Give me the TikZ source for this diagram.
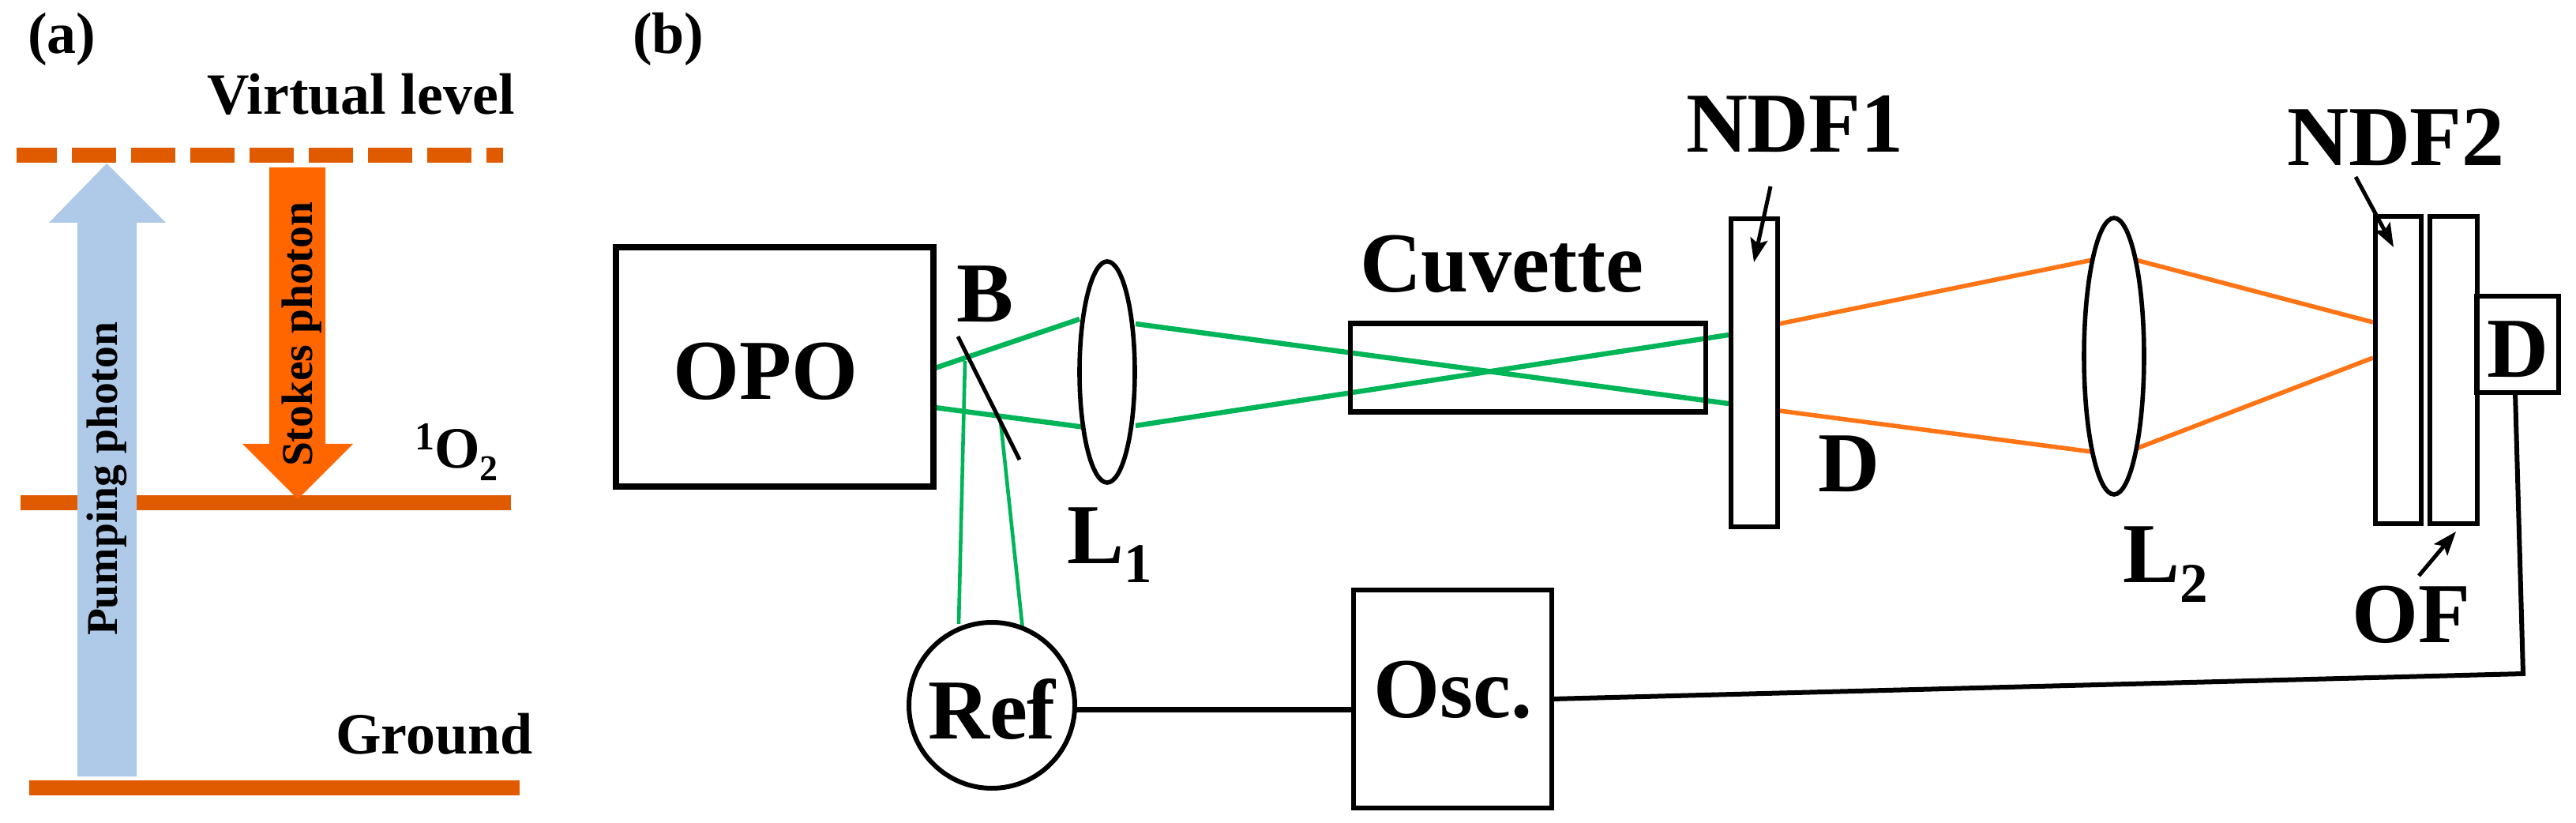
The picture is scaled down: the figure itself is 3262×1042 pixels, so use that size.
\documentclass[tikz,border=0pt]{standalone}
\usepackage{fontspec}
\usepackage{tikz}
\usetikzlibrary{arrows, arrows.meta, shapes.geometric, positioning}
\setmainfont{Liberation Serif}
\definecolor{levelc}{HTML}{E05A00}
\definecolor{pumpc}{HTML}{AFC9E8}
\definecolor{stokesc}{HTML}{FF6600}
\definecolor{beamg}{HTML}{00B458}
\definecolor{beamo}{HTML}{FF7414}
\newcommand{\shifted}[3]{\raisebox{#1}{\fontsize{#2}{#2}\selectfont #3}}
\tikzset{>=stealth,
    big/.style={font=\fontsize{54}{54}\selectfont\bfseries, inner sep=0pt, outer sep=0pt},
    mid/.style={font=\fontsize{37}{37}\selectfont\bfseries, inner sep=0pt, outer sep=0pt},
    small/.style={font=\fontsize{27.8}{27.8}\selectfont\bfseries, inner sep=0pt, outer sep=0pt, rotate=90, anchor=base west},
    box/.style={draw, big, line width=3pt},
    lens/.style={draw, ellipse, inner sep=0pt, outer sep=0pt, line width=2.8pt},
    level/.style={levelc, line width=9.5pt},
    greenthick/.style={beamg, line width=3.2pt},
    greenthin/.style={beamg, line width=2.3pt},
    orangebeam/.style={beamo, line width=2.8pt},
    pointer/.style={-{Stealth[length=15pt, width=11pt, inset=3pt]}, line width=2.5pt}}
\begin{document}
\begin{tikzpicture}[x=.5pt, y=-.5pt]
    \useasboundingbox (0,0) rectangle (3262,1042);
    \foreach \y/\xa/\xb in {637/26/647, 997/37/658}
    {
        \draw[level](\xa,\y)--(\xb,\y);
    }
    \draw[level, dash pattern=on 28pt off 9.5pt, dash phase=2.5pt](21,197)--(637,197);
    \fill[pumpc](98,983)--(98,282)--(62,282)--(135,207)--(210,282)--(173,282)--(173,983)--cycle;
    \fill[stokesc](341,212)--(412,212)--(412,562)--(447,562)--(377,632)--(307,562)--(341,562)--cycle;
    \node[small] (pumping) at (148,805) {Pumping photon};
    \node[small] (stokes) at (395,591) {Stokes photon};
    \foreach \n/\x/\y/\t in {laba/35/68/{(a)}, labb/801/68/{(b)}, virtual/262/145/{Virtual level}, ground/425/954/{Ground},
        singlet/525/593/{\shifted{11.5pt}{25}{1}O\shifted{-8pt}{23}{2}}}
    {
        \node[mid, anchor=base west] (\n) at (\x,\y) {\t};
    }
    \foreach \n/\x/\y/\t in {labB/1211/408/B, labL/1351/713/{L\shifted{-12.5pt}{35.5}{1}}, cuvlab/1722/370/Cuvette,
        ndflaba/2135/193/NDF1, labD/2302/623/D, labLb/2688/738/{L\shifted{-12.5pt}{35.5}{2}},
        ndflabb/2896/210/NDF2, oflab/2978/813/OF}
    {
        \node[big, anchor=base west] (\n) at (\x,\y) {\t};
    }
    \foreach \n/\x/\y in {opoa/1184/466, opob/1184/516, lain/1367/404, lbin/1374/541, laout/1438/410, lbout/1438/539,
        ndfinb/2189/511, ndfina/2189/424, splita/1222/457, splitb/1267/533, refa/1214/790, refb/1295/797,
        ndfouta/2253/410, ndfoutb/2253/520, lensba/2650/329, lensbb/2649/572, lensca/2704/329, lenscb/2705/568,
        ndfba/3005/408, ndfbb/3005/453, mirra/1213/426, mirrb/1291/582, wirec/3195/853,
        taila/2242/236, heada/2221/332, tailb/2983/224, headb/3031/313, tailc/3063/729, headc/3110/673}
    {
        \coordinate (\n) at (\x,\y);
    }
    \draw[greenthick](opoa)--(lain);
    \draw[greenthick](opob)--(lbin);
    \draw[greenthick](laout)--(ndfinb);
    \draw[greenthick](lbout)--(ndfina);
    \draw[greenthin](splita)--(refa);
    \draw[greenthin](splitb)--(refb);
    \draw[orangebeam](ndfouta)--(lensba);
    \draw[orangebeam](ndfoutb)--(lensbb);
    \draw[orangebeam](lensca)--(ndfba);
    \draw[orangebeam](lenscb)--(ndfbb);
    \node[box, line width=4.2pt, minimum width=201pt, minimum height=151.5pt, text height=41.5pt, text depth=0pt] (opo) at (981,464.5) {OPO\hspace{12pt}\mbox{}};
    \node[box, line width=3.2pt, minimum width=225pt, minimum height=56pt] (cuvette) at (1935,465.5) {};
    \foreach \n/\x/\y/\w/\h in {ndfa/2221.5/472/29.5/195, ndfb/3037/468.5/29/194.5, of/3107/468.5/30/194.5}
    {
        \node[box, minimum width=\w pt, minimum height=\h pt] (\n) at (\x,\y) {};
    }
    \node[box, minimum width=52pt, minimum height=61pt, text height=42pt, text depth=0pt] (det) at (3188,436) {D};
    \node[box, minimum width=125.5pt, minimum height=138pt, text height=37pt, text depth=14pt] (osc) at (1839.5,885) {Osc.};
    \node[box, circle, minimum size=105pt, text height=42pt, text depth=0pt] (ref) at (1256,893) {Ref};
    \node[lens, minimum width=35pt, minimum height=140pt] (lensa) at (1402,471) {};
    \node[lens, minimum width=38pt, minimum height=175pt] (lensb) at (2677,451) {};
    \draw[line width=2.5pt](mirra)--(mirrb);
    \draw[line width=3.2pt](ref.-3)--(ref.-3 -| osc.west);
    \draw[line width=3pt](osc.east)--(wirec)--([xshift=-1.5pt]det.south);
    \draw[pointer](taila)--(heada);
    \draw[pointer](tailb)--(headb);
    \draw[pointer](tailc)--(headc);
\end{tikzpicture}
\end{document}
